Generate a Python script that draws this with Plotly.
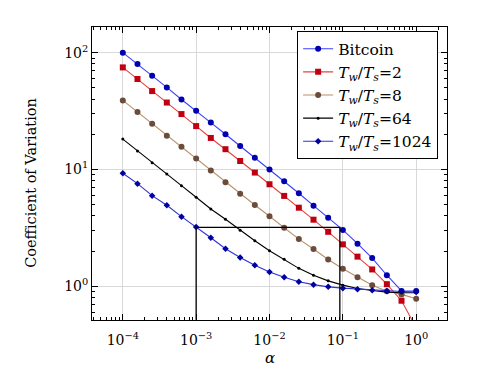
import plotly.graph_objects as go

alpha_exp = [-4 + 0.2 * k for k in range(21)]
alpha = [10 ** e for e in alpha_exp]

bitcoin = [100, 80, 63.5, 50.4, 39.7, 31.8, 25.2, 20, 15.9, 12.6, 10,
           7.9, 6.25, 4.89, 3.86, 3.03, 2.31, 1.74, 1.24, 0.91, 0.91]
tw2 = [74.8, 59.5, 46.9, 37.4, 29.8, 23.5, 18.6, 14.9, 11.8, 9.4, 7.46,
       5.93, 4.7, 3.71, 2.92, 2.28, 1.79, 1.39, 1.04, 0.75, 0.44]
tw8 = [39, 31, 24.6, 19.4, 15.6, 12.4, 9.77, 7.76, 6.2, 4.96, 3.97,
       3.17, 2.53, 2.08, 1.69, 1.41, 1.19, 1.02, 0.906, 0.85, 0.78]
tw64 = [18.2, 14.4, 11.4, 9.15, 7.26, 5.77, 4.58, 3.74, 3.01, 2.45, 2.01,
        1.7, 1.42, 1.24, 1.11, 1.02, 0.955, 0.918, 0.888, 0.877, 0.877]
tw1024 = [9.27, 7.55, 5.96, 4.93, 3.94, 3.21, 2.6, 2.09, 1.76, 1.51, 1.32,
          1.19, 1.09, 1.03, 0.986, 0.961, 0.942, 0.924, 0.91, 0.9, 0.89]

box_x = [1e-3, 1e-3, 0.091, 0.091]
box_y = [0.3, 3.19, 3.19, 0.3]

x_tick_exp = [-4, -3, -2, -1, 0]
y_tick_exp = [0, 1, 2]

def tick_labels(exps):
    return ["10<sup>%s</sup>" % (("\u2212%d" % -e) if e < 0 else "%d" % e) for e in exps]

def minor_vals(lo, hi):
    return [m * 10 ** e for e in range(lo, hi) for m in range(2, 10)]

series = [
    ("Bitcoin", bitcoin, "#3f3fff", "#0000b0", "circle", 6),
    ("<i>T</i><sub><i>w</i></sub>/<i>T</i><sub><i>s</i></sub>=2", tw2, "#e84040", "#c00010", "square", 6),
    ("<i>T</i><sub><i>w</i></sub>/<i>T</i><sub><i>s</i></sub>=8", tw8, "#b8906a", "#6b4c3b", "circle", 6),
    ("<i>T</i><sub><i>w</i></sub>/<i>T</i><sub><i>s</i></sub>=64", tw64, "#000000", "#000000", "circle", 3),
    ("<i>T</i><sub><i>w</i></sub>/<i>T</i><sub><i>s</i></sub>=1024", tw1024, "#3030d8", "#0000a0", "diamond", 5),
]

fig = go.Figure()
for name, ys, lc, mc, sym, sz in series:
    fig.add_trace(go.Scatter(
        x=alpha, y=ys, name=name, mode="lines+markers",
        line=dict(color=lc, width=1.1),
        marker=dict(color=mc, symbol=sym, size=sz, line=dict(width=0)),
    ))

fig.add_trace(go.Scatter(
    x=box_x, y=box_y, mode="lines", showlegend=False,
    line=dict(color="black", width=1.3), hoverinfo="skip",
))

font = "DejaVu Serif"
axis_common = dict(
    type="log", showline=True, linecolor="black", linewidth=1, mirror="allticks",
    ticks="inside", ticklen=6, tickcolor="black",
    showgrid=True, gridcolor="#d9d9d9", gridwidth=1,
    zeroline=False, tickmode="array", automargin=False,
    tickfont=dict(family=font, size=14, color="black"),
)

fig.update_layout(
    width=492, height=364,
    margin=dict(l=84, r=53, t=19, b=52, autoexpand=False),
    paper_bgcolor="white", plot_bgcolor="white",
    font=dict(family=font, color="black"),
    xaxis=dict(axis_common, range=[-4.42, 0.42], ticklabelstandoff=7,
               tickvals=[10 ** e for e in x_tick_exp], ticktext=tick_labels(x_tick_exp),
               minor=dict(ticks="inside", ticklen=3, tickcolor="black", showgrid=False,
                          tickmode="array", tickvals=minor_vals(-5, 1))),
    yaxis=dict(axis_common, range=[-0.29, 2.22],
               tickvals=[10 ** e for e in y_tick_exp], ticktext=tick_labels(y_tick_exp),
               minor=dict(ticks="inside", ticklen=3, tickcolor="black", showgrid=False,
                          tickmode="array", tickvals=minor_vals(-1, 3))),
    legend=dict(x=0.975, y=0.986, xanchor="right", yanchor="top",
                bgcolor="white", bordercolor="black", borderwidth=1,
                font=dict(family=font, size=15.5), tracegroupgap=0),
    annotations=[
        dict(text="Coefficient of Variation", textangle=-90, xref="paper", yref="paper",
             x=-0.172, y=0.468, xanchor="center", yanchor="middle", showarrow=False,
             font=dict(family=font, size=14.5, color="black")),
        dict(text="<i>α</i>", xref="paper", yref="paper",
             x=0.501, y=-0.128, xanchor="center", yanchor="middle", showarrow=False,
             font=dict(family=font, size=15, color="black")),
    ],
    showlegend=True,
)

fig.write_html("out.html")
